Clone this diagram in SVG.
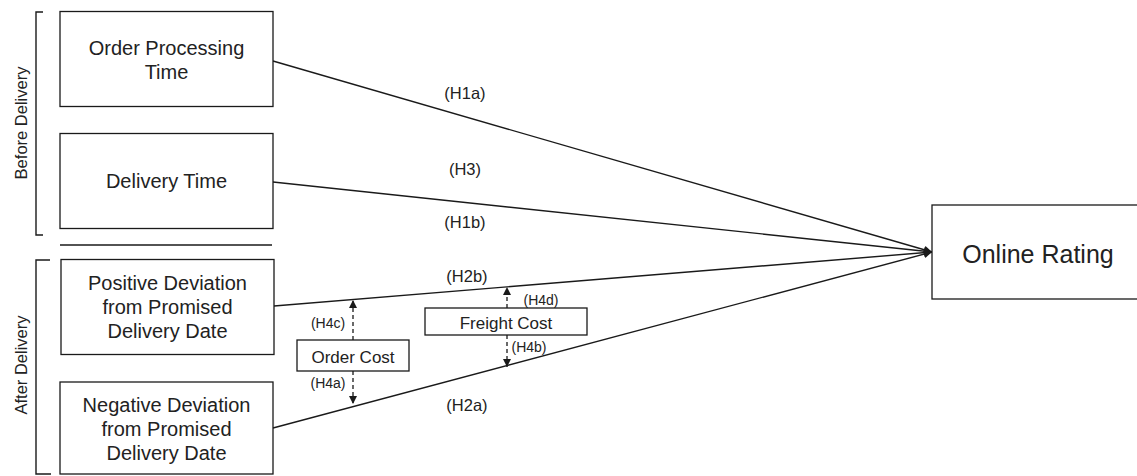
<svg xmlns="http://www.w3.org/2000/svg" width="1137" height="476" viewBox="0 0 1137 476">
<defs>
<style>
.box{fill:#fff;stroke:#1a1a1a;stroke-width:1.3}
.t{font-family:"Liberation Sans",Arial,sans-serif;fill:#222;text-anchor:middle}
.big{font-size:20px}
.lab{font-size:16.5px}
.sm{font-size:14px}
.ln{fill:none;stroke:#1a1a1a;stroke-width:1.4}
.dash{fill:none;stroke:#1a1a1a;stroke-width:1.3;stroke-dasharray:4 3}
</style>
<marker id="ah" viewBox="0 0 10 10" refX="10" refY="5" markerWidth="10" markerHeight="8" markerUnits="userSpaceOnUse" orient="auto">
<path d="M0,0 L10,5 L0,10 z" fill="#1a1a1a"/>
</marker>
<marker id="ahs" viewBox="0 0 10 10" refX="10" refY="5" markerWidth="9" markerHeight="8" markerUnits="userSpaceOnUse" orient="auto">
<path d="M0,0 L10,5 L0,10 z" fill="#1a1a1a"/>
</marker>
</defs>
<rect width="1137" height="476" fill="#fff"/>

<g id="brackets">
<path class="ln" d="M43,12 H36 V235 H43"/>
<text class="t lab" transform="translate(27,123) rotate(-90)">Before Delivery</text>
<line class="ln" x1="60" y1="245" x2="272" y2="245"/>
<path class="ln" d="M50,260 H36 V474 H51"/>
<text class="t lab" transform="translate(27,365) rotate(-90)">After Delivery</text>
</g>

<g id="connectors">
<line class="ln" x1="273" y1="61" x2="932" y2="252" marker-end="url(#ah)"/>
<line class="ln" x1="273" y1="182" x2="932" y2="252" marker-end="url(#ah)"/>
<line class="ln" x1="274" y1="306" x2="932" y2="252" marker-end="url(#ah)"/>
<line class="ln" x1="273" y1="428" x2="932" y2="252" marker-end="url(#ah)"/>
<line class="dash" x1="353" y1="340" x2="353" y2="300" marker-end="url(#ahs)"/>
<line class="dash" x1="353" y1="371" x2="353" y2="404" marker-end="url(#ahs)"/>
<line class="dash" x1="507" y1="308" x2="507" y2="287" marker-end="url(#ahs)"/>
<line class="dash" x1="507" y1="335" x2="507" y2="367" marker-end="url(#ahs)"/>
<text class="t lab" x="465" y="99">(H1a)</text>
<text class="t lab" x="465" y="175">(H3)</text>
<text class="t lab" x="465" y="228">(H1b)</text>
<text class="t lab" x="467" y="282">(H2b)</text>
<text class="t lab" x="467" y="411">(H2a)</text>
<text class="t sm" x="328" y="328">(H4c)</text>
<text class="t sm" x="328" y="388">(H4a)</text>
<text class="t sm" x="541" y="305">(H4d)</text>
<text class="t sm" x="529" y="352">(H4b)</text>
</g>

<g id="node-order-processing">
<rect class="box" x="60" y="11.5" width="213" height="95"/>
<text class="t big" x="166.5" y="55">Order Processing</text>
<text class="t big" x="166.5" y="79">Time</text>
</g>

<g id="node-delivery-time">
<rect class="box" x="60" y="133.5" width="213" height="95"/>
<text class="t big" x="166.5" y="188">Delivery Time</text>
</g>

<g id="node-positive">
<rect class="box" x="61" y="259.5" width="213" height="95"/>
<text class="t big" x="167.5" y="290">Positive Deviation</text>
<text class="t big" x="167.5" y="314">from Promised</text>
<text class="t big" x="167.5" y="338">Delivery Date</text>
</g>

<g id="node-negative">
<rect class="box" x="60" y="382" width="213" height="92"/>
<text class="t big" x="166.5" y="412">Negative Deviation</text>
<text class="t big" x="166.5" y="436">from Promised</text>
<text class="t big" x="166.5" y="460">Delivery Date</text>
</g>

<g id="node-order-cost">
<rect class="box" x="297" y="340" width="112" height="31"/>
<text class="t" style="font-size:17px" x="353" y="363">Order Cost</text>
</g>

<g id="node-freight-cost">
<rect class="box" x="425" y="308" width="162" height="27"/>
<text class="t" style="font-size:17px" x="506" y="329">Freight Cost</text>
</g>

<g id="node-online-rating">
<rect class="box" x="932" y="205" width="210" height="94"/>
<text class="t" style="font-size:25px" x="1038" y="263">Online Rating</text>
</g>
</svg>
